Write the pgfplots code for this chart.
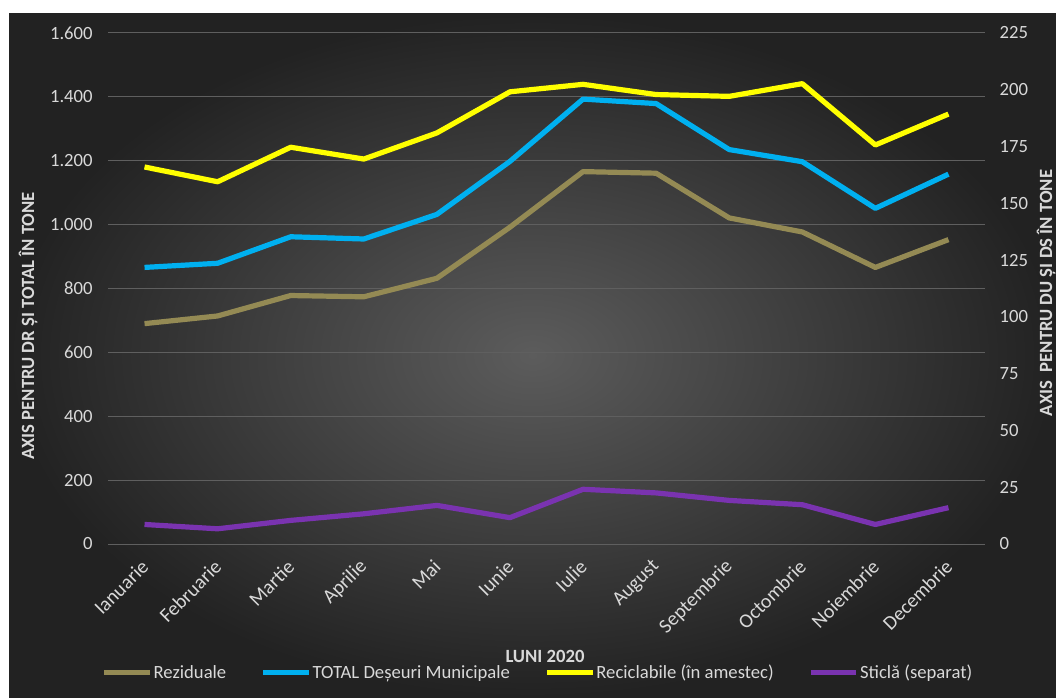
\documentclass[border=0pt]{standalone}
\usepackage{fontspec}
\setmainfont{Carlito}
\usepackage{pgfplots}
\pgfplotsset{compat=1.18}
\definecolor{bgin}{RGB}{92,92,92}
\definecolor{bgout}{RGB}{34,34,34}
\definecolor{olivel}{RGB}{148,138,84}
\definecolor{bluel}{RGB}{0,176,240}
\definecolor{yell}{RGB}{255,255,0}
\definecolor{purp}{RGB}{122,51,176}
\definecolor{txt}{RGB}{217,217,217}
\definecolor{gridc}{RGB}{95,95,95}
\pgfplotsset{
  base/.style={
    scale only axis, width=657.75pt, height=383.25pt,
    at={(81pt,114.75pt)}, anchor=south west,
    xmin=-0.5, xmax=11.5,
    axis line style={draw=none}, major tick length=0pt,
    tick label style={font=\fontsize{14}{16}\selectfont, text=txt},
    /pgf/number format/.cd, 1000 sep={.}, assume math mode=true,
  },
  serie/.style={line width=3.9pt, line join=round, mark=none},
}
\begin{document}
\begin{tikzpicture}[x=0.75pt,y=0.75pt]
\useasboundingbox (0,0) rectangle (1056,697);
\fill[white] (0,0) rectangle (1056,697);
\shade[inner color=bgin, outer color=bgout] (9,0) rectangle (1056,683);

\begin{axis}[base,
  ymin=0, ymax=1600, ytick={0,200,...,1600},
  ymajorgrids, grid style={gridc, line width=0.75pt},
  xtick={0,...,11},
  xticklabels={Ianuarie,Februarie,Martie,Aprilie,Mai,Iunie,Iulie,August,Septembrie,Octombrie,Noiembrie,Decembrie},
  xticklabel style={font=\fontsize{15}{17}\selectfont, inner sep=1pt, xshift=1pt, yshift=-14pt, rotate=45, anchor=east},
  yticklabel style={xshift=-8pt},
]
\addplot[serie, olivel] coordinates {(0,690) (1,714) (2,778) (3,774) (4,832) (5,992) (6,1166) (7,1161) (8,1021) (9,977) (10,866) (11,953)};
\addplot[serie, bluel] coordinates {(0,866) (1,879) (2,962) (3,955) (4,1032) (5,1198) (6,1393) (7,1379) (8,1235) (9,1197) (10,1051) (11,1158)};
\end{axis}

\begin{axis}[base,
  ymin=0, ymax=225, ytick={0,25,...,225},
  axis x line=none, axis y line*=right,
  yticklabel style={anchor=west, xshift=7.5pt},
  legend columns=4,
  legend image code/.code={\draw[#1, line width=3.75pt] (0pt,0pt) -- (34pt,0pt);},
  legend style={at={(0.49,-0.2524)}, anchor=center, draw=none, fill=none,
    text=txt, font=\fontsize{14}{16}\selectfont,
    nodes={inner sep=1pt},
    /tikz/every even column/.append style={column sep=25pt}},
]
\addlegendimage{olivel}
\addlegendentry{Reziduale}
\addlegendimage{bluel}
\addlegendentry{TOTAL Deșeuri Municipale}
\addplot[serie, yell] coordinates {(0,166) (1,159.5) (2,174.7) (3,169.5) (4,181) (5,199.1) (6,202.4) (7,197.9) (8,197.1) (9,202.7) (10,175.7) (11,189.3)};
\addlegendentry{Reciclabile (în amestec)}
\addplot[serie, purp] coordinates {(0,8.6) (1,6.7) (2,10.4) (3,13.3) (4,17) (5,11.6) (6,24.1) (7,22.5) (8,19.2) (9,17.3) (10,8.6) (11,16)};
\addlegendentry{Sticlă (separat)}
\end{axis}

\node[rotate=90, font=\bfseries\fontsize{14}{16}\selectfont, text=txt] at (28,371) {AXIS PENTRU DR ȘI TOTAL ÎN TONE};
\node[rotate=90, font=\bfseries\fontsize{14}{16}\selectfont, text=txt] at (1046,404) {AXIS\ \ PENTRU DU ȘI DS ÎN TONE};
\node[font=\bfseries\fontsize{14}{16}\selectfont, text=txt] at (545,41) {LUNI 2020};
\end{tikzpicture}
\end{document}
